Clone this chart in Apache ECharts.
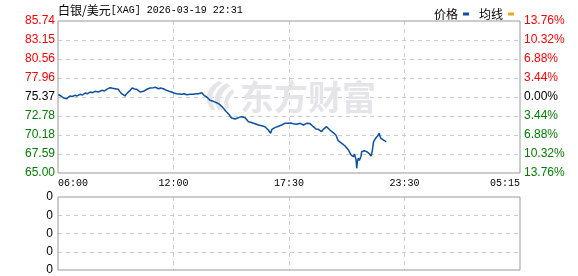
<!DOCTYPE html>
<html>
<head>
<meta charset="utf-8">
<script src="https://cdn.jsdelivr.net/npm/echarts@6/dist/echarts.min.js"></script>
<style>
html,body{margin:0;padding:0;background:#fff;}
#c{width:578px;height:276px;}
</style>
</head>
<body>
<div id="c"></div>
<script>
// ---- data ----
var titleName = '白银/美元';
var titleRest = '[XAG] 2026-03-19 22:31';
var seriesNames = ['价格', '均线'];
var xTickLabels = ['06:00', '12:00', '17:30', '23:30', '05:15'];
var priceTickLabels = ['65.00', '67.59', '70.18', '72.78', '75.37', '77.96', '80.56', '83.15', '85.74'];
var pctTickLabels = ['13.76%', '10.32%', '6.88%', '3.44%', '0.00%', '3.44%', '6.88%', '10.32%', '13.76%'];
var volTickLabels = ['0', '0', '0', '0', '0'];
var times = [
  '06:01','06:05','06:09','06:12','06:16','06:21','06:26','06:31','06:36','06:43',
  '06:51','06:58','07:06','07:14','07:22','07:30','07:37','07:45','07:52','08:02',
  '08:12','08:20','08:27','08:32','08:37','08:45','08:52','08:57','09:02','09:07',
  '09:12','09:17','09:22','09:27','09:32','09:38','09:44','09:51','09:58','10:03',
  '10:08','10:13','10:18','10:23','10:30','10:38','10:43','10:48','10:55','11:03',
  '11:10','11:18','11:23','11:28','11:35','11:43','11:50','11:58','12:06','12:14',
  '12:21','12:29','12:39','12:49','12:57','13:04','13:09','13:14','13:17','13:21',
  '13:25','13:29','13:34','13:39','13:44','13:49','13:54','13:59','14:04','14:09',
  '14:14','14:19','14:23','14:27','14:32','14:37','14:41','14:44','14:47','14:49',
  '14:55','15:00','15:07','15:15','15:20','15:25','15:30','15:35','15:42','15:50',
  '15:57','16:05','16:10','16:15','16:20','16:25','16:30','16:35','16:42','16:46',
  '16:50','16:55','17:00','17:08','17:15','17:20','17:25','17:30','17:35','17:42',
  '17:50','17:55','18:01','18:06','18:11','18:16','18:21','18:26','18:31','18:36',
  '18:41','18:46','18:51','18:55','18:59','19:03','19:06','19:11','19:16','19:19',
  '19:21','19:26','19:31','19:36','19:41','19:46','19:51','19:55','19:59','20:03',
  '20:06','20:12','20:17','20:22','20:27','20:32','20:37','20:41','20:45','20:49',
  '20:52','20:55','20:57','21:00','21:02','21:04','21:07','21:10','21:12','21:15',
  '21:17','21:21','21:25','21:29','21:32','21:36','21:39','21:42','21:45','21:47',
  '21:49','21:51','21:53','21:56','21:59','22:02','22:05','22:08','22:10','22:12',
  '22:15','22:18','22:20','22:23','22:25','22:28','22:31'];
var prices = [
  75.71,75.64,75.51,75.37,75.27,75.37,75.14,75.27,75.51,75.44,
  75.60,75.51,75.74,75.64,75.92,75.82,76.05,75.96,76.15,76.05,
  76.28,76.19,76.42,76.33,76.64,76.55,76.50,76.60,76.42,76.10,
  75.82,75.96,75.51,75.82,76.05,76.28,76.60,76.46,76.42,76.15,
  76.05,76.19,76.15,76.28,76.46,76.60,76.55,76.64,76.69,76.50,
  76.60,76.50,76.37,76.28,76.15,76.05,75.92,75.82,75.78,75.74,
  75.82,75.68,75.74,75.74,75.82,75.82,75.90,75.96,75.87,75.60,
  75.46,75.37,75.10,74.92,74.97,74.78,74.66,74.59,74.50,74.32,
  74.10,73.87,73.69,73.42,73.24,72.95,72.73,72.50,72.32,72.23,
  72.37,72.46,72.59,72.68,72.64,72.55,72.32,72.00,71.92,71.78,
  71.69,71.55,71.60,71.45,71.50,71.32,71.14,70.87,70.42,70.96,
  71.10,71.19,71.32,71.41,71.55,71.64,71.78,71.69,71.78,71.82,
  71.72,71.60,71.64,71.82,71.78,71.69,71.55,71.69,71.78,71.87,
  71.74,71.60,71.32,71.10,71.00,71.14,70.96,70.82,70.64,70.82,
  70.96,71.19,71.32,71.05,70.87,70.69,70.50,70.37,70.19,69.73,
  69.41,69.23,69.05,68.87,68.68,68.41,68.14,67.78,67.46,67.32,
  67.22,67.60,67.46,66.80,65.64,66.60,67.01,66.70,66.77,67.30,
  67.91,67.70,68.04,67.85,67.91,68.10,67.69,67.90,67.32,67.60,
  68.04,68.70,69.27,69.50,69.73,69.60,70.05,70.25,70.42,70.05,
  69.73,69.85,69.60,69.50,69.27,69.45,69.27];
var averages = [];
var priceMin = 65.00, priceMax = 85.74, priceStep = 2.5925;
var dayStart = 6 * 60, daySpan = 1395;

// ---- chart ----
function toMin(t) {
  var p = t.split(':');
  var m = (+p[0]) * 60 + (+p[1]) - dayStart;
  if (m < 0) m += 1440;
  return m;
}
var lineData = times.map(function (t, i) { return [toMin(t), prices[i]]; });
var xStep = daySpan / 4;
function idxOf(v, min, step) { return Math.round((v - min) / step); }
function colorKey(i) { return i < 4 ? 'g' : (i === 4 ? 'k' : 'r'); }

var yLabelRich = {
  g: { color: '#008000', fontFamily: 'Liberation Sans, Arial', fontSize: 12 },
  k: { color: '#000000', fontFamily: 'Liberation Sans, Arial', fontSize: 12 },
  r: { color: '#FF0000', fontFamily: 'Liberation Sans, Arial', fontSize: 12 }
};
var dashed = { show: true, lineStyle: { color: '#cccccc', type: [4, 4], width: 1 }, showMinLine: false, showMaxLine: false };
var wmColor = '#E4E4E9';

var chart = echarts.init(document.getElementById('c'), null, { renderer: 'canvas' });
chart.setOption({
  animation: false,
  backgroundColor: '#ffffff',
  legend: {
    data: seriesNames,
    left: 429, top: 3,
    align: 'right',
    icon: 'rect',
    itemWidth: 6, itemHeight: 3,
    itemGap: 10,
    textStyle: { fontFamily: 'Noto Sans CJK SC', fontSize: 12, color: '#000' }
  },
  grid: [
    { left: 58, top: 21, width: 462, height: 152, show: true, borderColor: '#999999', borderWidth: 1, backgroundColor: 'transparent', z: 3 },
    { left: 58, top: 197, width: 462, height: 73, show: true, borderColor: '#999999', borderWidth: 1, backgroundColor: 'transparent', z: 3 }
  ],
  xAxis: [
    {
      type: 'value', gridIndex: 0, min: 0, max: daySpan, interval: xStep,
      axisLine: { show: false }, axisTick: { show: false },
      splitLine: dashed,
      axisLabel: {
        margin: 5, color: '#000', fontFamily: 'Liberation Mono, DejaVu Sans Mono', fontSize: 10,
        alignMinLabel: 'left', alignMaxLabel: 'right',
        formatter: function (v) { return xTickLabels[idxOf(v, 0, xStep)] || ''; }
      }
    },
    {
      type: 'value', gridIndex: 1, min: 0, max: daySpan, interval: xStep,
      axisLine: { show: false }, axisTick: { show: false },
      splitLine: dashed, axisLabel: { show: false }
    }
  ],
  yAxis: [
    {
      type: 'value', gridIndex: 0, position: 'left', min: priceMin, max: priceMax, interval: priceStep,
      axisLine: { show: false }, axisTick: { show: false },
      splitLine: dashed,
      axisLabel: {
        margin: 3, rich: yLabelRich,
        formatter: function (v) { var i = idxOf(v, priceMin, priceStep); return '{' + colorKey(i) + '|' + priceTickLabels[i] + '}'; }
      }
    },
    {
      type: 'value', gridIndex: 0, position: 'right', min: priceMin, max: priceMax, interval: priceStep,
      axisLine: { show: false }, axisTick: { show: false }, splitLine: { show: false },
      axisLabel: {
        margin: 4, rich: yLabelRich,
        formatter: function (v) { var i = idxOf(v, priceMin, priceStep); return '{' + colorKey(i) + '|' + pctTickLabels[i] + '}'; }
      }
    },
    {
      type: 'value', gridIndex: 1, min: 0, max: 4, interval: 1,
      axisLine: { show: false }, axisTick: { show: false },
      splitLine: dashed,
      axisLabel: {
        margin: 5, color: '#000', fontFamily: 'Liberation Sans, Arial', fontSize: 12,
        formatter: function (v) { return volTickLabels[idxOf(v, 0, 1)]; }
      }
    }
  ],
  graphic: [
    {
      type: 'text', x: 58, y: 4, z: 5,
      style: {
        text: '{c|' + titleName + '}{m|' + titleRest + '}',
        rich: {
          c: { fontFamily: 'Noto Sans CJK SC', fontSize: 12, fill: '#000' },
          m: { fontFamily: 'Liberation Mono, DejaVu Sans Mono', fontSize: 10, fill: '#000' }
        }
      }
    },
    {
      type: 'text', x: 308, y: 97, z: 1, silent: true,
      style: { text: '东方财富', fontFamily: 'Noto Sans CJK SC', fontWeight: 'bold', fontSize: 34, fill: wmColor, align: 'center', verticalAlign: 'middle' }
    },
    {
      type: 'polygon', z: 1, silent: true,
      shape: { points: [[211,110],[207,102],[207,94],[210,88],[214,84],[219,81],[222,83],[217,87],[213,93],[212,101],[215,110]] },
      style: { fill: wmColor }
    },
    {
      type: 'polygon', z: 1, silent: true,
      shape: { points: [[218,110],[215,103],[215,96],[218,90],[222,86],[227,83],[230,86],[225,90],[221,96],[220,103],[222,110]] },
      style: { fill: wmColor }
    },
    {
      type: 'polygon', z: 1, silent: true,
      shape: { points: [[225,108],[224,102],[226,96],[229,92],[233,89],[234,93],[230,97],[228,102],[229,108]] },
      style: { fill: wmColor }
    }
  ],
  series: [
    {
      name: seriesNames[0], type: 'line', xAxisIndex: 0, yAxisIndex: 0,
      data: lineData, showSymbol: false, symbol: 'none', z: 4,
      color: '#0B50A3',
      lineStyle: { color: '#0B50A3', width: 1.5 }
    },
    {
      name: seriesNames[1], type: 'line', xAxisIndex: 0, yAxisIndex: 0,
      data: averages, showSymbol: false, symbol: 'none',
      color: '#E8A820',
      lineStyle: { color: '#E8A820', width: 1 }
    }
  ]
});
</script>
</body>
</html>
